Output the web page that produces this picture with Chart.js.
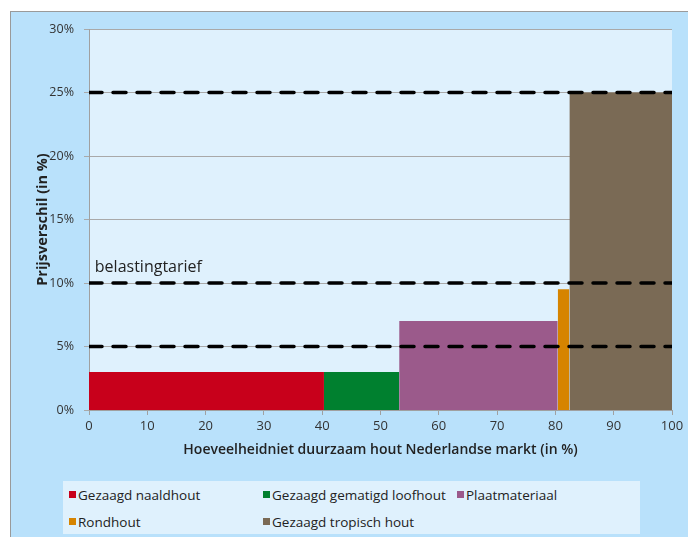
<!DOCTYPE html>
<html>
<head>
<meta charset="utf-8">
<script src="https://cdn.jsdelivr.net/npm/chart.js@4"></script>
<style>
    html, body { margin: 0; padding: 0; background: #fff; }
    body { width: 688px; height: 537px; position: relative; overflow: hidden; font-family: 'Open Sans', sans-serif; }
    .frame { position: absolute; left: 10px; top: 11px; width: 700px; height: 560px; background: #b9e1fb; border: 1px solid #9a9a9a; }
    #chart { position: absolute; left: 0; top: 0; }
    .legend { position: absolute; left: 63px; top: 481px; width: 577px; height: 53px; background: #dff1fd; display: grid;
        grid-template-columns: 194px 194px 189px; grid-auto-rows: 27px; font-size: 13.5px; color: #222; }
    .legend .item { display: flex; align-items: center; padding-left: 6px; white-space: nowrap; }
    .legend .box { width: 7px; height: 7px; margin-right: 2px; }
</style>
</head>
<body>
<div class="frame"></div>
<canvas id="chart" width="688" height="537"></canvas>
<div class="legend" id="legend"></div>
<script>
// houtsoorten (categories)
const categories = ['Gezaagd naaldhout', 'Gezaagd gematigd loofhout', 'Plaatmateriaal', 'Rondhout', 'Gezaagd tropisch hout'];
// cumulative share of the Dutch market where each category ends (in %)
const shareEnd = [40.3, 53.2, 80.4, 82.4, 100];
// price difference (in %)
const priceDiff = [3, 3, 7, 9.5, 25];
// tax levels drawn as dashed lines
const taxLevels = [5, 10, 25];
const xTicks = [0, 10, 20, 30, 40, 50, 60, 70, 80, 90, 100];
const yTicks = [0, 5, 10, 15, 20, 25, 30];

const colors = ['#c8001b', '#00802f', '#9b5a8b', '#d68400', '#7a6a55'];

Chart.defaults.font.family = "'Open Sans', sans-serif";
Chart.defaults.color = '#333';

// bars as filled step segments on a linear x scale
const barSets = categories.map((name, i) => {
    const start = i === 0 ? 0 : shareEnd[i - 1];
    return {
        label: name,
        data: [{ x: start, y: priceDiff[i] }, { x: shareEnd[i], y: priceDiff[i] }],
        backgroundColor: colors[i],
        borderColor: 'transparent',
        borderWidth: 0,
        pointRadius: 0,
        fill: 'origin',
        order: 2
    };
});

const taxSets = taxLevels.map(level => ({
    label: 'tarief ' + level,
    data: [{ x: xTicks[0], y: level }, { x: xTicks[xTicks.length - 1], y: level }],
    borderColor: '#000',
    borderWidth: 3.5,
    borderDash: [13, 11],
    borderCapStyle: 'round',
    pointRadius: 0,
    fill: false,
    order: 1
}));

// plot area background + annotation text
const plotDecor = {
    id: 'plotDecor',
    beforeDraw(chart) {
        const { ctx, chartArea } = chart;
        ctx.save();
        ctx.fillStyle = '#dff1fd';
        ctx.fillRect(chartArea.left, chartArea.top, chartArea.right - chartArea.left, chartArea.bottom - chartArea.top);
        ctx.restore();
    },
    afterDraw(chart) {
        const { ctx, scales } = chart;
        ctx.save();
        ctx.font = "16px 'Open Sans', sans-serif";
        ctx.fillStyle = '#222';
        ctx.textBaseline = 'bottom';
        ctx.fillText('belastingtarief', scales.x.getPixelForValue(1), scales.y.getPixelForValue(taxLevels[1]) - 8);
        ctx.restore();
    }
};

new Chart(document.getElementById('chart'), {
    type: 'line',
    data: { datasets: [...taxSets, ...barSets] },
    options: {
        responsive: false,
        animation: false,
        layout: { padding: { left: 0, top: 29, right: 16, bottom: 77 } },
        plugins: {
            legend: { display: false },
            tooltip: { enabled: false }
        },
        scales: {
            x: {
                type: 'linear',
                min: 0,
                max: 100,
                afterFit: s => { s.height = 50; },
                afterBuildTicks: s => { s.ticks = xTicks.map(v => ({ value: v })); },
                grid: { display: true, drawOnChartArea: false, tickLength: 5, color: '#a0a0a0' },
                border: { color: '#a0a0a0' },
                ticks: { font: { size: 13 }, padding: 3, color: '#333' },
                title: {
                    display: true,
                    text: 'Hoeveelheidniet duurzaam hout Nederlandse markt (in %)',
                    font: { size: 14, weight: '600' },
                    color: '#222',
                    padding: { top: 0, bottom: 2 }
                }
            },
            y: {
                min: 0,
                max: 30,
                afterFit: s => { s.width = 89; },
                afterBuildTicks: s => { s.ticks = yTicks.map(v => ({ value: v })); },
                grid: { color: '#a9a9a9', tickLength: 5 },
                border: { color: '#a0a0a0' },
                ticks: { font: { size: 12.5 }, padding: 10, color: '#333', callback: v => v + '%' },
                title: {
                    display: true,
                    text: 'Prijsverschil (in %)',
                    font: { size: 14.5, weight: 'bold' },
                    color: '#222',
                    padding: { top: 34, bottom: 0 }
                }
            }
        }
    },
    plugins: [plotDecor]
});

// legend laid out in columns like the original
const legend = document.getElementById('legend');
categories.forEach((name, i) => {
    const item = document.createElement('div');
    item.className = 'item';
    item.innerHTML = `<span class="box" style="background:${colors[i]}"></span><span>${name}</span>`;
    legend.appendChild(item);
});
</script>
</body>
</html>
